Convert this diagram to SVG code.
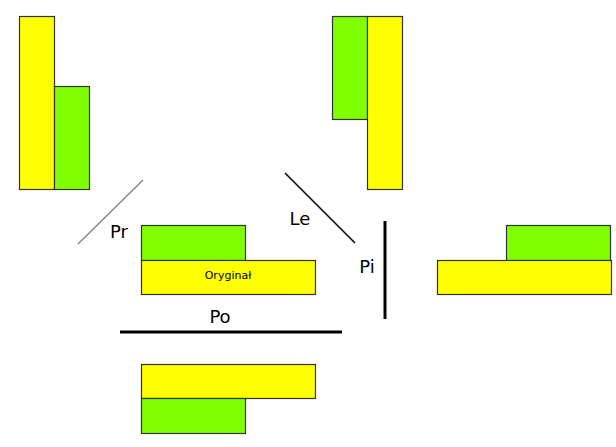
<svg xmlns="http://www.w3.org/2000/svg" width="616" height="447" viewBox="0 0 616 447">
<style>
.y{fill:#ffff00;stroke:#333;stroke-width:1.2}
.g{fill:#7fff00;stroke:#333;stroke-width:1.2}
.lbl{font-family:"DejaVu Sans",sans-serif;font-size:18px;fill:#000}
.small{font-family:"DejaVu Sans",sans-serif;font-size:11px;fill:#000}
</style>
<rect width="616" height="447" fill="#fff"/>
<g id="shape-pr">
<rect class="y" x="19.5" y="16.5" width="35" height="173"/>
<rect class="g" x="54.5" y="86.5" width="35" height="103"/>
</g>
<g id="shape-le">
<rect class="g" x="332.5" y="16.5" width="35" height="103"/>
<rect class="y" x="367.5" y="16.5" width="35" height="173"/>
</g>
<g id="shape-original">
<rect class="g" x="141.5" y="225.5" width="104" height="35"/>
<rect class="y" x="141.5" y="260.5" width="174" height="34"/>
<text class="small" x="228" y="279" text-anchor="middle">Oryginał</text>
</g>
<g id="shape-pi">
<rect class="g" x="506.5" y="225.5" width="104" height="35"/>
<rect class="y" x="437.5" y="260.5" width="174" height="34"/>
</g>
<g id="shape-po">
<rect class="y" x="141.5" y="364.5" width="174" height="34"/>
<rect class="g" x="141.5" y="398.5" width="104" height="35"/>
</g>
<g id="connectors">
<line x1="78" y1="244" x2="143" y2="180" stroke="#808080" stroke-width="1.3"/>
<line x1="285" y1="173" x2="355" y2="243" stroke="#000" stroke-width="1.6"/>
<line x1="385" y1="221" x2="385" y2="319" stroke="#000" stroke-width="3"/>
<line x1="120" y1="332" x2="342" y2="332" stroke="#000" stroke-width="3"/>
</g>
<g id="labels">
<text class="lbl" x="119" y="238" text-anchor="middle">Pr</text>
<text class="lbl" x="300" y="225" text-anchor="middle">Le</text>
<text class="lbl" x="367" y="273" text-anchor="middle">Pi</text>
<text class="lbl" x="220" y="323" text-anchor="middle">Po</text>
</g>
</svg>
